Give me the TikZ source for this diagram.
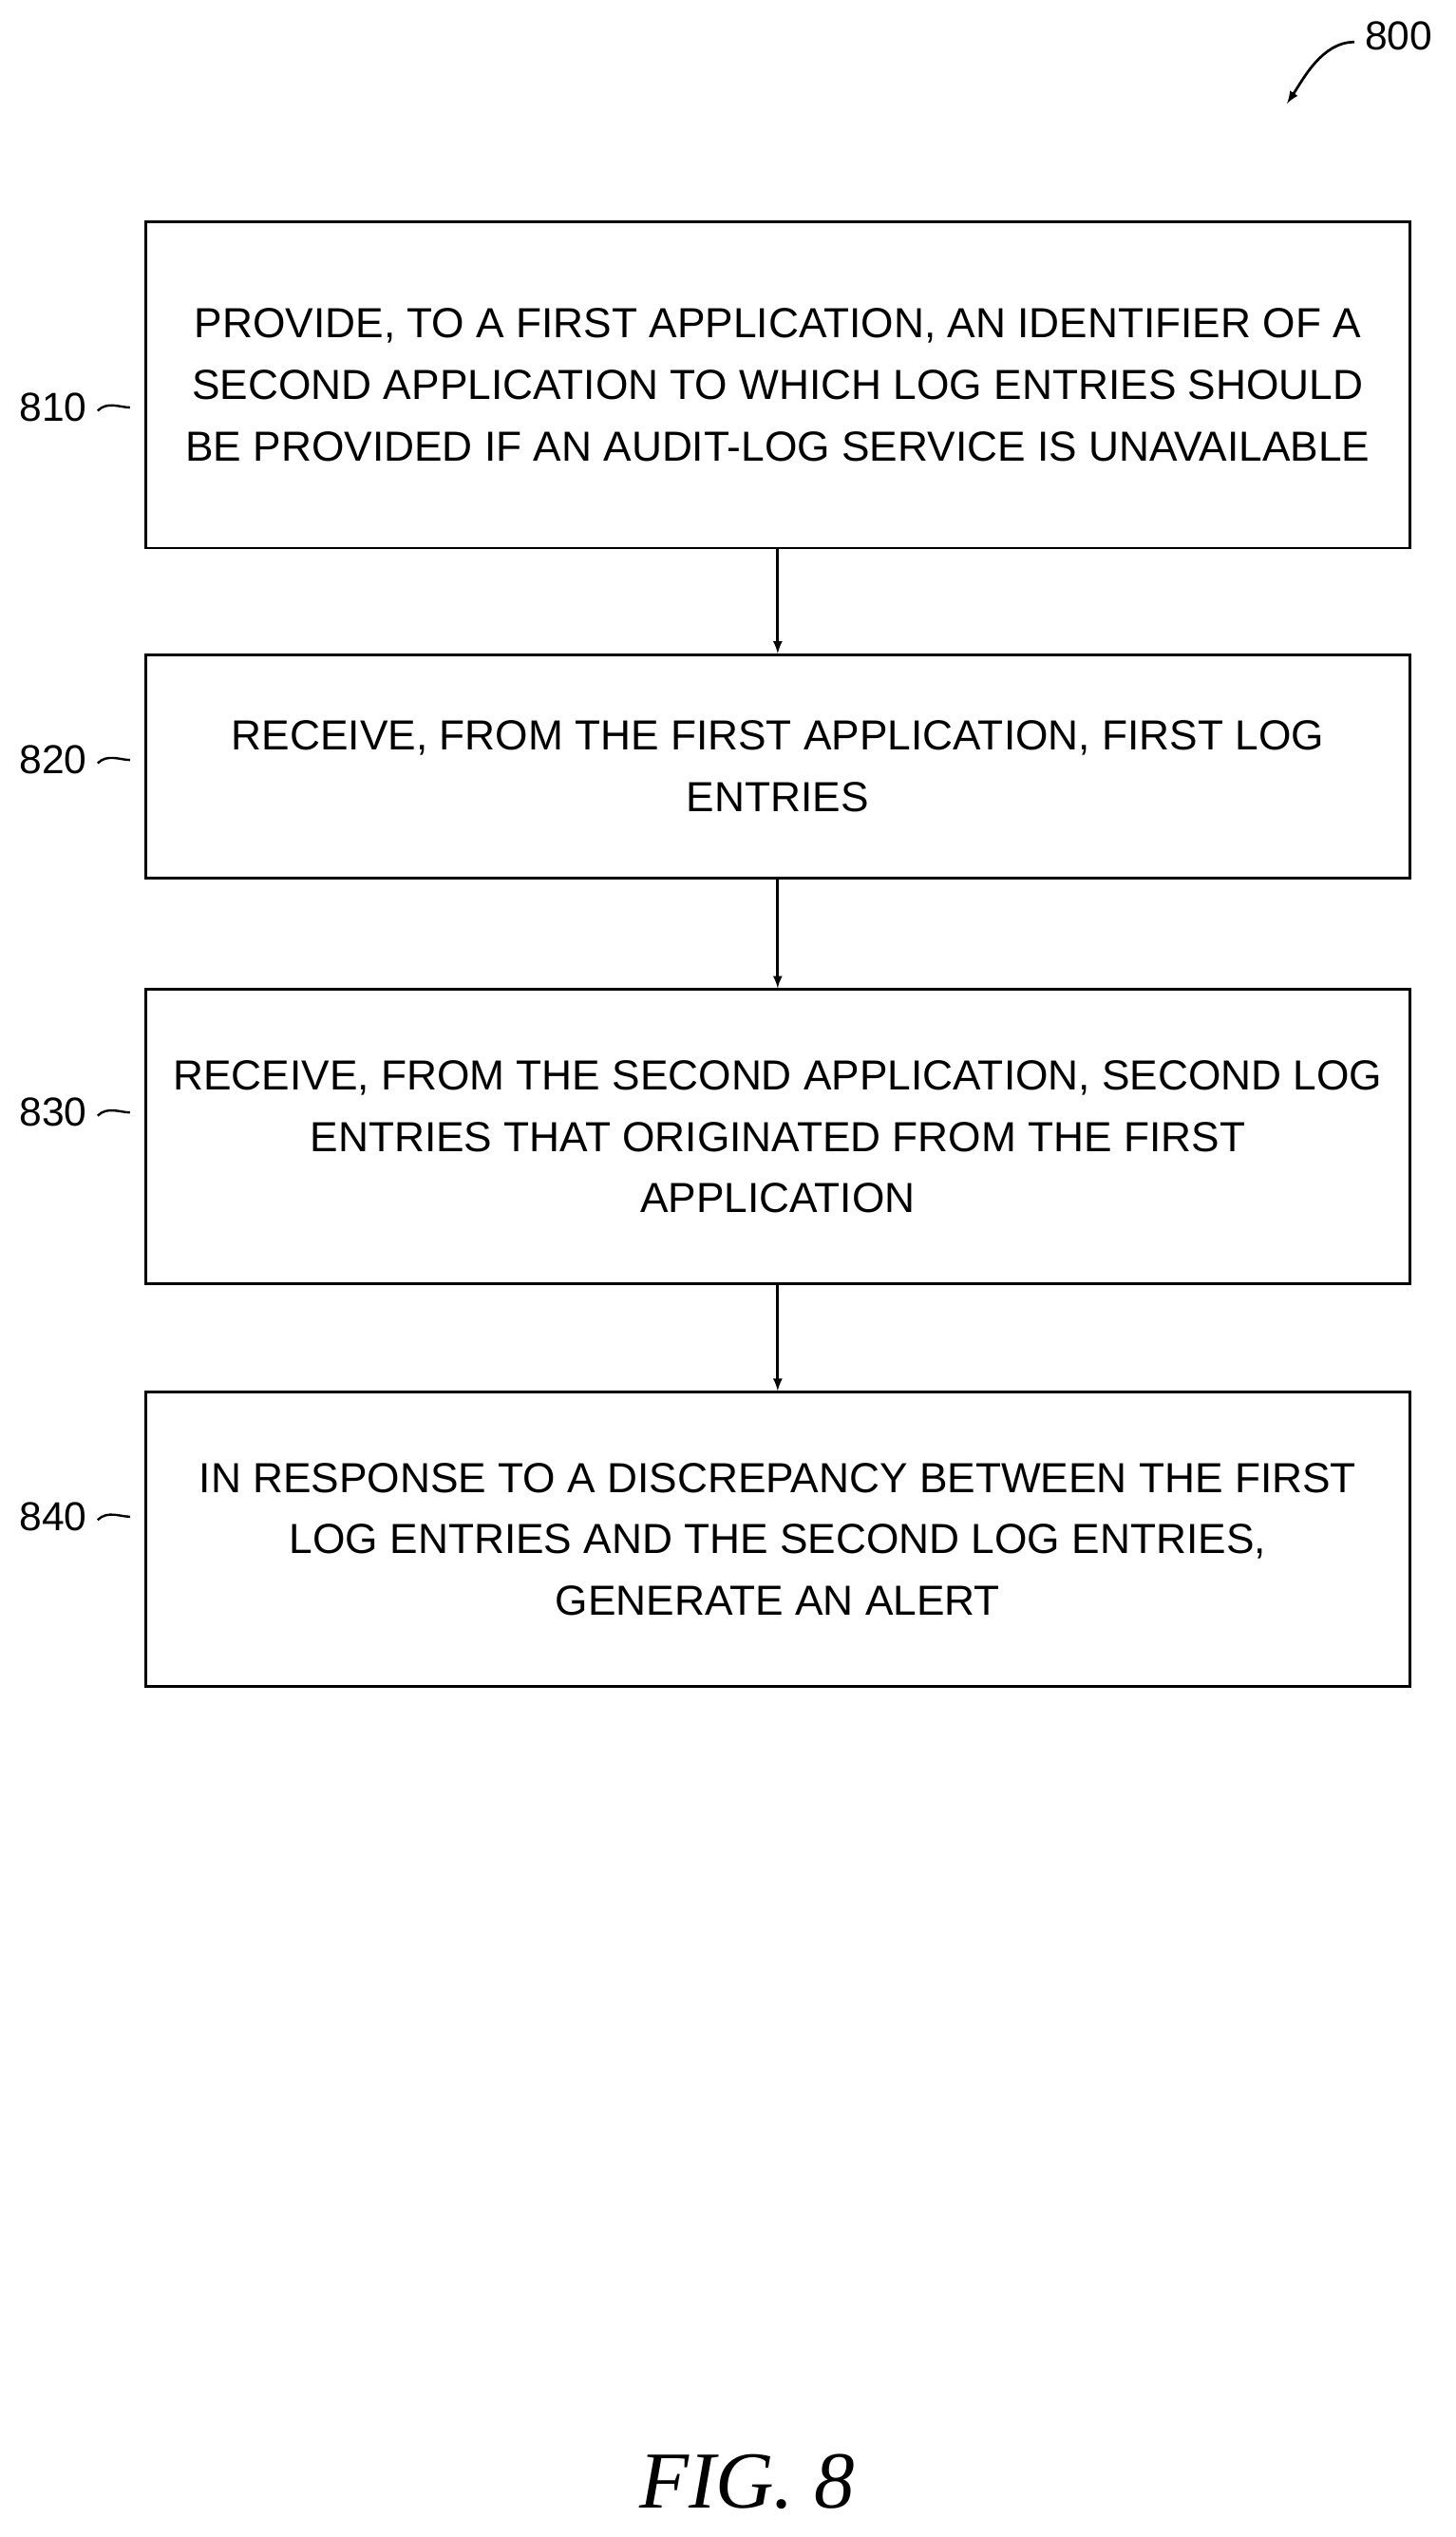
\documentclass[tikz,border=0pt]{standalone}
\usepackage{fontspec}
\setmainfont{Liberation Sans}
\newfontfamily\figfont{Liberation Serif}
\begin{document}
\begin{tikzpicture}[x=1pt,y=-1pt,
 box/.style={draw,line width=1.6pt,align=center,font=\fontsize{26}{38}\selectfont,inner sep=0pt},
 lab/.style={font=\fontsize{25}{30}\selectfont},
 arr/.style={-latex,line width=1.6pt},
 tl/.style={line width=1.4pt}]
\useasboundingbox (0,0) rectangle (900,1569);
\fill[white] (0,0) rectangle (900,1569);
\node[box,minimum width=782pt,minimum height=202pt] (b1) at (481,238) {PROVIDE, TO A FIRST APPLICATION, AN IDENTIFIER OF A\\SECOND APPLICATION TO WHICH LOG ENTRIES SHOULD\\BE PROVIDED IF AN AUDIT-LOG SERVICE IS UNAVAILABLE};
\node[box,minimum width=782pt,minimum height=138pt] (b2) at (481,474) {RECEIVE, FROM THE FIRST APPLICATION, FIRST LOG\\ENTRIES};
\node[box,minimum width=782pt,minimum height=182pt] (b3) at (481,703) {RECEIVE, FROM THE SECOND APPLICATION, SECOND LOG\\ENTRIES THAT ORIGINATED FROM THE FIRST\\APPLICATION};
\node[box,minimum width=782pt,minimum height=182pt] (b4) at (481,952) {IN RESPONSE TO A DISCREPANCY BETWEEN THE FIRST\\LOG ENTRIES AND THE SECOND LOG ENTRIES,\\GENERATE AN ALERT};
\draw[arr] (b1) -- (b2);
\draw[arr] (b2) -- (b3);
\draw[arr] (b3) -- (b4);
\node[lab] (l1) at (33,252) {810};
\node[lab] (l2) at (33,470) {820};
\node[lab] (l3) at (33,688) {830};
\node[lab] (l4) at (33,938) {840};
\foreach \i/\y in {1/252,2/470,3/688,4/938}{
 \draw[tl] (l\i.east) ++(3,2) .. controls +(6,-6) and +(-6,0) .. ++(20,-2);
}
\node[lab] (l0) at (865,22) {800};
\coordinate (a0) at (796,64);
\draw[arr] (l0.west) ++(-3,4) .. controls +(-20,0) and +(10,-15) .. (a0);
\node[font=\figfont\itshape\fontsize{50}{60}\selectfont] (fig) at (462,1535) {FIG. 8};
\end{tikzpicture}
\end{document}
